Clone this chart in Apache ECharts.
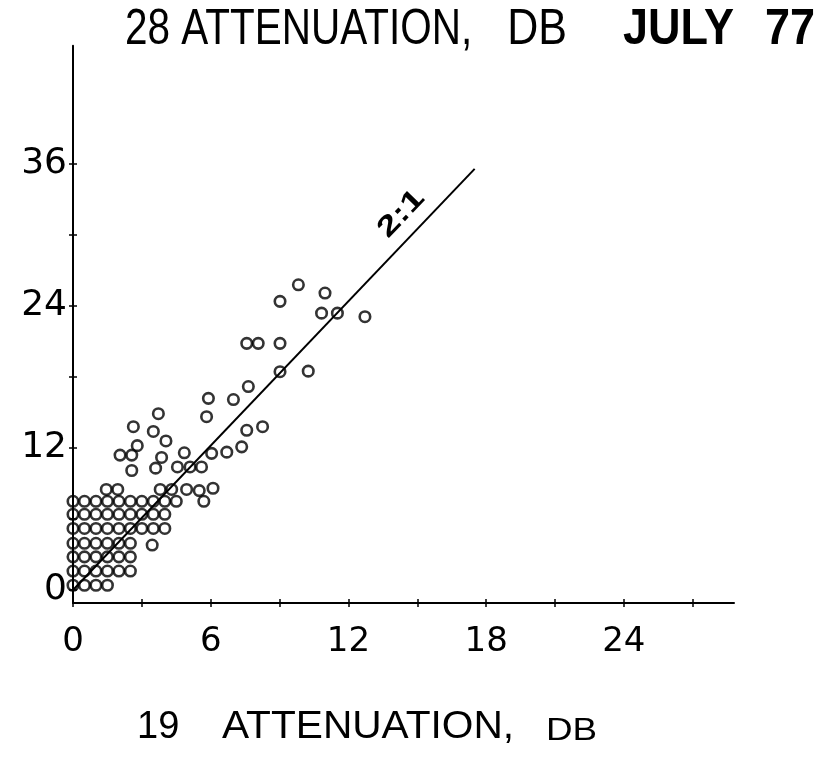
<!DOCTYPE html>
<html><head><meta charset="utf-8">
<script src="https://cdn.jsdelivr.net/npm/echarts@6/dist/echarts.min.js"></script>
<style>html,body{margin:0;padding:0;background:#fff}#c{width:822px;height:757px}</style>
</head><body><div id="c"></div>
<script>
// 19 GHz attenuation (dB) -> x, 28 GHz attenuation (dB) -> y
const atten19 = [
  0,0.5,1,1.5,2,2.5,3,3.5,4,4.5, 5.7,
  0,0.5,1,1.5,2,2.5,3,3.5,4,
  0,0.5,1,1.5,2,2.5,3,3.5,4,
  0,0.5,1,1.5,2,2.5, 3.45,
  0,0.5,1,1.5,2,2.5,
  0,0.5,1,1.5,2,2.5,
  0,0.5,1,1.5,
  1.45,1.95,3.8,4.3,4.95,5.5,6.1,
  2.56,3.6,4.55,5.1,5.6,
  2.05,2.56,3.86,4.85,6.04,6.7,7.35,
  2.8,4.05,3.5,2.63,3.72,
  5.82,5.9,6.99,7.64,7.57,8.26,
  7.57,8.07,9.02,9.02,10.25,
  9.02,9.82,10.98,10.83,11.52,12.72
];
const atten28 = [
  7.5,7.5,7.5,7.5,7.5,7.5,7.5,7.5,7.5,7.5, 7.5,
  6.4,6.4,6.4,6.4,6.4,6.4,6.4,6.4,6.4,
  5.2,5.2,5.2,5.2,5.2,5.2,5.2,5.2,5.2,
  3.95,3.95,3.95,3.95,3.95,3.95, 3.8,
  2.8,2.8,2.8,2.8,2.8,2.8,
  1.6,1.6,1.6,1.6,1.6,1.6,
  0.4,0.4,0.4,0.4,
  8.5,8.5,8.5,8.5,8.5,8.4,8.6,
  10.1,10.3,10.4,10.4,10.4,
  11.4,11.4,11.2,11.6,11.55,11.65,12.1,
  12.2,12.6,13.4,13.8,14.9,
  14.65,16.2,16.1,17.2,13.5,13.8,
  20.85,20.85,20.85,18.45,18.5,
  24.4,25.8,25.1,23.4,23.4,23.1
];
const ratioLineX = [0, 17.5];
const ratioLineY = [0, 35.6];
const xTicks = [0,3,6,9,12,15,18,21,24,27];
const xLabels = [0,6,12,18,24];
const yTicks = [0,6,12,18,24,30,36];
const yLabels = [0,12,24,36];

const FONT = "'Liberation Sans', Arial, sans-serif";
const NUMFONT = "'DejaVu Sans', 'Liberation Sans', sans-serif";
const points = atten19.map((v, i) => [v, atten28[i]]);
const chart = echarts.init(document.getElementById('c'), null, {renderer: 'canvas'});

const X_MIN = 0, X_MAX = 28.8, Y_MIN = -1.1, Y_MAX = 46;
function xAx(inside) {
  return {
    type: 'value', min: X_MIN, max: X_MAX, position: 'bottom',
    axisLine: {show: !inside, onZero: false, lineStyle: {color: '#000', width: 2}},
    axisTick: {show: true, inside: inside, length: 4, customValues: xTicks, lineStyle: {color: '#000', width: 1.5}},
    axisLabel: inside ? {show: false} : {show: true, customValues: xLabels, color: '#000', fontSize: 34, fontFamily: NUMFONT, margin: 22},
    splitLine: {show: false}
  };
}
function yAx(inside) {
  return {
    type: 'value', min: Y_MIN, max: Y_MAX, position: 'left',
    axisLine: {show: !inside, onZero: false, lineStyle: {color: '#000', width: 2}},
    axisTick: {show: true, inside: inside, length: 4, customValues: yTicks, lineStyle: {color: '#000', width: 1.5}},
    axisLabel: inside ? {show: false} : {show: true, customValues: yLabels, color: '#000', fontSize: 36, fontFamily: NUMFONT, margin: 6},
    splitLine: {show: false}
  };
}

chart.setOption({
  animation: false,
  backgroundColor: '#fff',
  grid: {left: 73, right: 88, top: 45.8, bottom: 154, containLabel: false},
  xAxis: [xAx(false), xAx(true)],
  yAxis: [yAx(false), yAx(true)],
  series: [
    {
      type: 'line', xAxisIndex: 0, yAxisIndex: 0,
      data: ratioLineX.map((v, i) => [v, ratioLineY[i]]),
      showSymbol: false, symbol: 'none',
      lineStyle: {color: '#000', width: 2}, z: 1
    },
    {
      type: 'scatter', xAxisIndex: 0, yAxisIndex: 0,
      data: points, symbol: 'circle', symbolSize: 10.5,
      itemStyle: {color: 'rgba(0,0,0,0)', borderColor: '#000', borderWidth: 2.6}, z: 2
    }
  ]
});

const lab = chart.convertToPixel({xAxisIndex: 0, yAxisIndex: 0}, [14.3, 31.8]);
const p0 = chart.convertToPixel({xAxisIndex: 0, yAxisIndex: 0}, [ratioLineX[0], ratioLineY[0]]);
const p1 = chart.convertToPixel({xAxisIndex: 0, yAxisIndex: 0}, [ratioLineX[1], ratioLineY[1]]);
const ang = Math.atan2(p0[1] - p1[1], p1[0] - p0[0]);

function txt(text, x, y, size, opts) {
  opts = opts || {};
  return {
    type: 'text', x: x, y: y, scaleX: opts.scaleX || 1, rotation: opts.rotation || 0,
    style: {text: text, x: 0, y: 0, fill: '#000', fontSize: size, fontWeight: opts.bold ? 'bold' : 'normal',
      fontFamily: FONT, textVerticalAlign: 'middle', textAlign: opts.align || 'left'}
  };
}

chart.setOption({
  graphic: [
    txt('28 ATTENUATION,', 125, 30.5, 50, {scaleX: 0.81}),
    txt('DB', 567, 30.5, 50, {scaleX: 0.86, align: 'right'}),
    txt('JULY', 623, 30.5, 50, {bold: true, scaleX: 0.9}),
    txt('77', 815, 30.5, 50, {bold: true, scaleX: 0.9, align: 'right'}),
    txt('19', 137, 728, 38),
    txt('ATTENUATION,', 222, 728, 38, {scaleX: 1.07}),
    txt('DB', 546, 731, 32, {scaleX: 1.15}),
    txt('2:1', lab[0], lab[1], 28, {bold: true, scaleX: 1.35, rotation: ang, align: 'center'})
  ]
});
</script></body></html>
